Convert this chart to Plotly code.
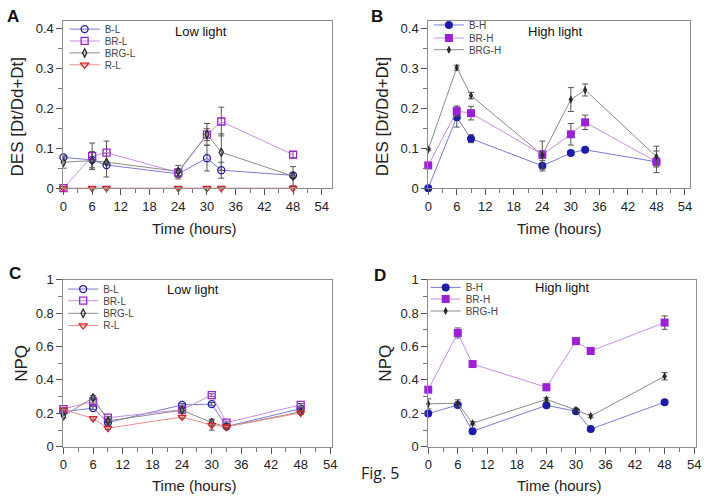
import plotly.graph_objects as go

hours = [0, 6, 9, 24, 30, 33, 48]
x_ticks = [0, 6, 12, 18, 24, 30, 36, 42, 48, 54]

# DES, low light
des_bl = [0.077, 0.071, 0.058, 0.036, 0.075, 0.045, 0.032]
des_bl_err = [0.004, 0.020, 0.030, 0.013, 0.032, 0.020, 0.006]
des_brl = [0.0, 0.080, 0.089, 0.039, 0.134, 0.167, 0.084]
des_brl_err = [0.0, 0.033, 0.029, 0.008, 0.015, 0.036, 0.008]
des_brgl = [0.065, 0.069, 0.065, 0.042, 0.135, 0.090, 0.030]
des_brgl_err = [0.015, 0.022, 0.0, 0.015, 0.027, 0.046, 0.024]
des_rl = [0, 0, 0, 0, 0, 0, 0]

# DES, high light
des_bh = [0.0, 0.178, 0.124, 0.056, 0.088, 0.096, 0.066]
des_bh_err = [0.0, 0.025, 0.010, 0.013, 0.005, 0.004, 0.010]
des_brh = [0.057, 0.193, 0.188, 0.084, 0.135, 0.165, 0.066]
des_brh_err = [0.005, 0.013, 0.017, 0.010, 0.027, 0.018, 0.027]
des_brgh = [0.097, 0.302, 0.232, 0.083, 0.222, 0.246, 0.079]
des_brgh_err = [0.003, 0.006, 0.008, 0.035, 0.030, 0.015, 0.026]

# NPQ, low light
npq_bl = [0.210, 0.232, 0.145, 0.251, 0.255, 0.122, 0.228]
npq_bl_err = [0.010, 0.008, 0.010, 0.008, 0.010, 0.008, 0.008]
npq_brl = [0.226, 0.271, 0.174, 0.222, 0.309, 0.145, 0.251]
npq_brl_err = [0.008, 0.010, 0.008, 0.008, 0.008, 0.008, 0.008]
npq_brgl = [0.184, 0.294, 0.155, 0.219, 0.145, 0.120, 0.209]
npq_brgl_err = [0.010, 0.012, 0.010, 0.010, 0.020, 0.008, 0.010]
npq_rl = [0.222, 0.170, 0.112, 0.178, 0.130, 0.120, 0.203]
npq_rl_err = [0.008, 0.010, 0.008, 0.008, 0.030, 0.008, 0.010]

# NPQ, high light
npq_bh = [0.199, 0.250, 0.093, 0.248, 0.213, 0.106, 0.267]
npq_bh_err = [0.008, 0.008, 0.006, 0.008, 0.008, 0.006, 0.008]
npq_brh = [0.342, 0.681, 0.495, 0.356, 0.632, 0.573, 0.743]
npq_brh_err = [0.010, 0.030, 0.010, 0.020, 0.020, 0.010, 0.040]
npq_brgh = [0.257, 0.261, 0.141, 0.284, 0.220, 0.184, 0.422]
npq_brgh_err = [0.030, 0.020, 0.010, 0.010, 0.010, 0.010, 0.022]

W, H = 710, 504
FONT = "Liberation Sans"

BLUE, BLUE_LINE = "#1c1ca8", "#7a7ad6"
PURPLE, PURPLE_LINE = "#9a22d4", "#c98ee6"
DARK, DARK_LINE = "#2a2a2a", "#8a8a8a"
RED, RED_LINE = "#d42424", "#f08c8c"


def px_x(p):
    return p / W


def px_y(p):
    return 1 - p / H


fig = go.Figure()
legend_count = [0]
legend_layout = {}


def add_series(xa, ya, y, err, name, symbol, size, color, line_color,
               leg_x, leg_y):
    legend_count[0] += 1
    key = "legend" if legend_count[0] == 1 else f"legend{legend_count[0]}"
    # one legend per entry so the rows can sit as close as in the original
    legend_layout[key] = dict(
        x=px_x(leg_x), y=px_y(leg_y), xanchor="left", yanchor="middle",
        bgcolor="rgba(0,0,0,0)", borderwidth=0,
        font=dict(family=FONT, size=10, color="#444"),
        itemwidth=30,
    )
    filled = not symbol.endswith("-open")
    fig.add_trace(go.Scatter(
        x=hours, y=y, name=name, mode="lines+markers",
        xaxis=xa, yaxis=ya, legend=key,
        line=dict(color=line_color, width=1),
        marker=dict(symbol=symbol, size=size, color=color,
                    line=dict(color=color, width=0 if filled else 1.3)),
        error_y=dict(type="data", array=err, color="#555", thickness=1, width=3),
        cliponaxis=False,
    ))


# panel A
add_series("x", "y", des_bl, des_bl_err, "B-L", "circle-open", 7, BLUE, BLUE_LINE, 61.5, 22.8)
add_series("x", "y", des_brl, des_brl_err, "BR-L", "square-open", 7, PURPLE, PURPLE_LINE, 61.5, 35)
add_series("x", "y", des_brgl, des_brgl_err, "BRG-L", "diamond-tall-open", 6, DARK, DARK_LINE, 61.5, 47.3)
add_series("x", "y", des_rl, [0] * 7, "R-L", "triangle-down-open", 7, RED, RED_LINE, 61.5, 59.6)

# panel B
add_series("x2", "y2", des_bh, des_bh_err, "B-H", "circle", 8, BLUE, BLUE_LINE, 431, 18.5)
add_series("x2", "y2", des_brh, des_brh_err, "BR-H", "square", 8, PURPLE, PURPLE_LINE, 431, 32)
add_series("x2", "y2", des_brgh, des_brgh_err, "BRG-H", "diamond-tall", 6, DARK, DARK_LINE, 431, 44)

# panel C
add_series("x3", "y3", npq_bl, npq_bl_err, "B-L", "circle-open", 7, BLUE, BLUE_LINE, 60, 290.7)
add_series("x3", "y3", npq_brl, npq_brl_err, "BR-L", "square-open", 7, PURPLE, PURPLE_LINE, 60, 302.7)
add_series("x3", "y3", npq_brgl, npq_brgl_err, "BRG-L", "diamond-tall-open", 6, DARK, DARK_LINE, 60, 315.7)
add_series("x3", "y3", npq_rl, npq_rl_err, "R-L", "triangle-down-open", 7, RED, RED_LINE, 60, 328.3)

# panel D
add_series("x4", "y4", npq_bh, npq_bh_err, "B-H", "circle", 8, BLUE, BLUE_LINE, 427.7, 289)
add_series("x4", "y4", npq_brh, npq_brh_err, "BR-H", "square", 8, PURPLE, PURPLE_LINE, 427.7, 301)
add_series("x4", "y4", npq_brgh, npq_brgh_err, "BRG-H", "diamond-tall", 6, DARK, DARK_LINE, 427.7, 313.3)


def x_axis(left, right, xmax, anchor):
    return dict(
        domain=[px_x(left), px_x(right)], range=[0, xmax], anchor=anchor,
        tickvals=x_ticks, ticks="outside", ticklen=6, tickcolor="#555",
        minor=dict(dtick=3, tick0=0, ticks="outside", ticklen=4, tickcolor="#777"),
        showline=True, linecolor="#8c8c8c", linewidth=1, mirror=True,
        showgrid=False, zeroline=False, ticklabeloverflow="allow",
        tickfont=dict(family=FONT, size=13, color="#222"),
    )


def y_axis(top, bottom, ymax, dtick, anchor):
    return dict(
        domain=[px_y(bottom), px_y(top)], range=[0, ymax], anchor=anchor,
        dtick=dtick, tick0=0, ticks="outside", ticklen=6, tickcolor="#555",
        minor=dict(dtick=dtick / 2, tick0=0, ticks="outside", ticklen=4, tickcolor="#777"),
        showline=True, linecolor="#8c8c8c", linewidth=1, mirror=True,
        showgrid=False, zeroline=False,
        tickfont=dict(family=FONT, size=13, color="#222"),
    )


annotations = []


def label(text, xp, yp, size, bold=False, font=FONT, angle=0, color="#111"):
    annotations.append(dict(
        text=f"<b>{text}</b>" if bold else text, x=px_x(xp), y=px_y(yp),
        xref="paper", yref="paper", showarrow=False, textangle=angle,
        xanchor="center", yanchor="middle",
        font=dict(family=font, size=size, color=color),
    ))


for txt, xp, yp in [("A", 9, 10), ("B", 378, 10), ("C", 11, 275), ("D", 381, 277)]:
    label(txt, xp, yp, 17, bold=True)
for txt, xp, yp in [("Low light", 200, 25), ("High light", 559, 25),
                    ("Low light", 192, 291), ("High light", 566, 289)]:
    label(txt, xp, yp, 13)
for xp, yp in [(193, 228), (563, 228), (193, 493), (563, 493)]:
    label("Time (hours)", xp, yp, 15, color="#222")
for txt, xp, yp in [("DES [Dt/Dd+Dt]", 14, 113), ("DES [Dt/Dd+Dt]", 384, 113),
                    ("NPQ", 17, 367), ("NPQ", 387, 367)]:
    label(txt, xp, yp, 17, angle=-90, color="#222")
label("Fig. 5", 382, 480, 16, font="Open Sans", color="#222")

fig.update_layout(
    width=W, height=H,
    margin=dict(l=0, r=0, t=0, b=0),
    paper_bgcolor="white", plot_bgcolor="white",
    showlegend=True,
    xaxis=x_axis(60.3, 332.3, 56.06, "y"),
    yaxis=y_axis(14, 186.7, 0.42, 0.1, "x"),
    xaxis2=x_axis(430.3, 695.7, 55.04, "y2"),
    yaxis2=y_axis(14, 186.7, 0.42, 0.1, "x2"),
    xaxis3=x_axis(60.3, 332.3, 54.26, "y3"),
    yaxis3=y_axis(281, 453.3, 1.0, 0.2, "x3"),
    xaxis4=x_axis(430.3, 701.7, 54.34, "y4"),
    yaxis4=y_axis(281, 453.3, 1.0, 0.2, "x4"),
    annotations=annotations,
    **legend_layout,
)

# the page's default body margin would push the fixed-size figure out of the window
fig.write_html("out.html", config={"displayModeBar": False},
               post_script="document.body.style.margin = '0';")
